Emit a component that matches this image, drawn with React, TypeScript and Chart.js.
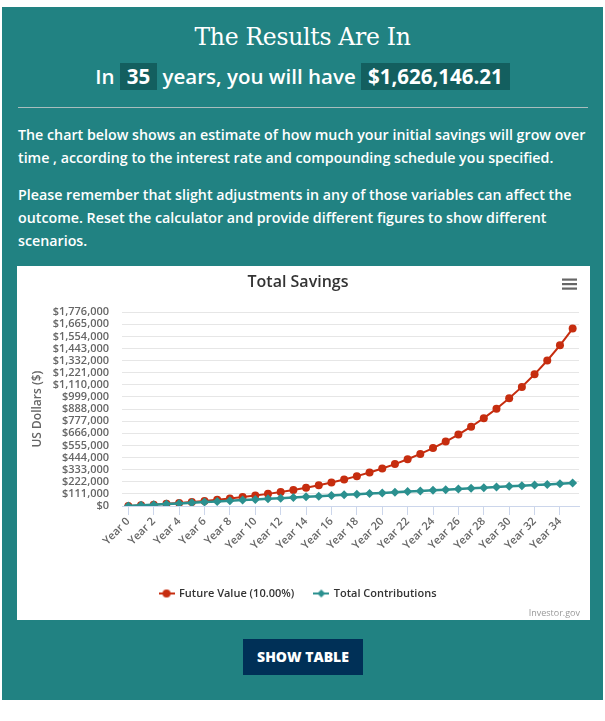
import React, { useEffect, useRef } from "react";
import { Chart, registerables } from "chart.js";

Chart.register(...registerables);

const years = [
  "Year 0", "Year 1", "Year 2", "Year 3", "Year 4", "Year 5", "Year 6", "Year 7", "Year 8", "Year 9",
  "Year 10", "Year 11", "Year 12", "Year 13", "Year 14", "Year 15", "Year 16", "Year 17", "Year 18", "Year 19",
  "Year 20", "Year 21", "Year 22", "Year 23", "Year 24", "Year 25", "Year 26", "Year 27", "Year 28", "Year 29",
  "Year 30", "Year 31", "Year 32", "Year 33", "Year 34", "Year 35",
];

const futureValue = [
  0, 6000, 12600, 19860, 27846, 36630.6, 46293.66, 56923.03, 68615.33, 81476.86,
  95624.55, 111187.0, 128305.7, 147136.27, 167849.9, 190634.89, 215698.38, 243268.22, 273595.04, 306954.54,
  343650.0, 384015.0, 428416.5, 477258.15, 530983.96, 590082.36, 655090.59, 726599.65, 805259.62, 891785.58,
  986964.14, 1091660.55, 1206826.61, 1333509.27, 1472860.19, 1626146.21,
];

const totalContributions = [
  0, 6000, 12000, 18000, 24000, 30000, 36000, 42000, 48000, 54000,
  60000, 66000, 72000, 78000, 84000, 90000, 96000, 102000, 108000, 114000,
  120000, 126000, 132000, 138000, 144000, 150000, 156000, 162000, 168000, 174000,
  180000, 186000, 192000, 198000, 204000, 210000,
];

const yMax = 1776000;
const yStep = 111000;

const seriesNames = ["Future Value (10.00%)", "Total Contributions"];
const RED = "#c62d0f";
const TEAL = "#2b908f";

function makeSymbol(color: string, shape: "circle" | "diamond") {
  const c = document.createElement("canvas");
  c.width = 16;
  c.height = 10;
  const g = c.getContext("2d")!;
  g.strokeStyle = color;
  g.lineWidth = 2;
  g.beginPath();
  g.moveTo(0, 5);
  g.lineTo(16, 5);
  g.stroke();
  g.fillStyle = color;
  g.beginPath();
  if (shape === "circle") {
    g.arc(8, 5, 4, 0, Math.PI * 2);
  } else {
    g.moveTo(8, 1);
    g.lineTo(12, 5);
    g.lineTo(8, 9);
    g.lineTo(4, 5);
    g.closePath();
  }
  g.fill();
  return c;
}

const extrasPlugin = {
  id: "extras",
  afterDraw(chart: any) {
    const ctx = chart.ctx;
    ctx.save();
    ctx.fillStyle = "#666";
    for (let i = 0; i < 3; i++) {
      ctx.fillRect(545, 12.5 + i * 4.5, 15, 2.2);
    }
    ctx.fillStyle = "#999";
    ctx.font = "9px 'Open Sans', sans-serif";
    ctx.textAlign = "right";
    ctx.textBaseline = "alphabetic";
    ctx.fillText("Investor.gov", 563, 350);
    ctx.restore();
  },
};

function TotalSavingsChart() {
  const ref = useRef<HTMLCanvasElement | null>(null);
  useEffect(() => {
    if (!ref.current) return;
    Chart.defaults.font.family = "'Open Sans', sans-serif";
    const redSym = makeSymbol(RED, "circle");
    const tealSym = makeSymbol(TEAL, "diamond");
    const chart = new Chart(ref.current, {
      type: "line",
      data: {
        labels: years,
        datasets: [
          {
            label: seriesNames[0],
            data: futureValue,
            borderColor: RED,
            backgroundColor: RED,
            borderWidth: 2,
            pointStyle: "circle",
            pointRadius: 4,
            pointBorderWidth: 0,
            pointBackgroundColor: RED,
            order: 1,
            tension: 0,
          },
          {
            label: seriesNames[1],
            data: totalContributions,
            borderColor: TEAL,
            backgroundColor: TEAL,
            borderWidth: 2.5,
            pointStyle: "rectRot",
            pointRadius: 4.5,
            pointBorderWidth: 0,
            pointBackgroundColor: TEAL,
            order: 0,
            tension: 0,
          },
        ],
      },
      options: {
        animation: false,
        responsive: false,
        layout: { padding: { left: 0, right: 11, top: 0, bottom: 11 } },
        plugins: {
          tooltip: { enabled: false },
          title: {
            display: true,
            text: "Total Savings",
            color: "#333",
            font: { size: 16, weight: "600" },
            padding: { top: 7, bottom: 20 },
          },
          legend: {
            position: "bottom",
            labels: {
              usePointStyle: true,
              pointStyleWidth: 14,
              boxHeight: 10,
              padding: 20,
              color: "#333",
              font: { size: 11, weight: "600" },
              generateLabels: (ch: any) => [
                {
                  text: seriesNames[0],
                  pointStyle: redSym,
                  fillStyle: RED,
                  strokeStyle: RED,
                  lineWidth: 0,
                  hidden: !ch.isDatasetVisible(0),
                  datasetIndex: 0,
                  fontColor: "#333",
                },
                {
                  text: seriesNames[1],
                  pointStyle: tealSym,
                  fillStyle: TEAL,
                  strokeStyle: TEAL,
                  lineWidth: 0,
                  hidden: !ch.isDatasetVisible(1),
                  datasetIndex: 1,
                  fontColor: "#333",
                },
              ],
            },
          },
        },
        scales: {
          x: {
            offset: true,
            grid: {
              drawOnChartArea: false,
              drawTicks: true,
              tickLength: 9,
              color: "#ccd6eb",
            },
            border: { display: true, color: "#ccd6eb", width: 1 },
            ticks: {
              autoSkip: false,
              minRotation: 45,
              maxRotation: 45,
              padding: 0,
              color: "#666",
              font: { size: 11, weight: "600" },
              callback: (_v: any, i: number) => (i % 2 === 0 ? years[i] : null),
            },
            afterFit: (scale: any) => {
              scale.height = 62;
            },
          },
          y: {
            min: 0,
            max: yMax,
            grid: { color: "#e6e6e6", drawTicks: false },
            border: { display: false },
            title: {
              display: true,
              text: "US Dollars ($)",
              color: "#666",
              font: { size: 12, weight: "600" },
              padding: { top: 13, bottom: 0 },
            },
            ticks: {
              stepSize: yStep,
              autoSkip: false,
              padding: 13,
              color: "#666",
              font: { size: 11, weight: "600" },
              callback: (v: any) => "$" + Number(v).toLocaleString("en-US"),
            },
            afterFit: (scale: any) => {
              scale.width = 105;
            },
          },
        },
      },
      plugins: [extrasPlugin],
    } as any);
    return () => chart.destroy();
  }, []);
  return <canvas ref={ref} width={573} height={354} style={{ display: "block", width: 573, height: 354 }} />;
}

export default function App() {
  const box: React.CSSProperties = {
    background: "#135f5f",
    padding: "0 7px",
    display: "inline-block",
    height: 27,
    lineHeight: "27px",
  };
  const line: React.CSSProperties = { whiteSpace: "nowrap", display: "block" };
  return (
    <div
      style={{
        position: "absolute",
        left: 2,
        top: 7,
        width: 601,
        height: 693,
        background: "#218282",
        color: "#fff",
        fontFamily: "'Open Sans', sans-serif",
      }}
    >
      <div
        style={{
          position: "absolute",
          left: 0,
          top: 14,
          width: 601,
          textAlign: "center",
          fontFamily: "'DejaVu Serif', serif",
          fontSize: 23.5,
          lineHeight: "32px",
          letterSpacing: "-0.3px",
        }}
      >
        The Results Are In
      </div>
      <div
        style={{
          position: "absolute",
          left: 0,
          top: 56,
          width: 601,
          textAlign: "center",
          fontSize: 20.5,
          fontWeight: 600,
          lineHeight: "27px",
          height: 27,
        }}
      >
        In <span style={{ ...box, fontWeight: 700 }}>35</span> years, you will have{" "}
        <span style={{ ...box, fontWeight: 700 }}>$1,626,146.21</span>
      </div>
      <div style={{ position: "absolute", left: 16, top: 100, width: 570, height: 1, background: "#a9bdbd" }} />
      <div
        style={{
          position: "absolute",
          left: 16,
          top: 115.5,
          fontSize: 14.25,
          fontWeight: 600,
          lineHeight: "23px",
        }}
      >
        <span style={line}>The chart below shows an estimate of how much your initial savings will grow over</span>
        <span style={line}>time , according to the interest rate and compounding schedule you specified.</span>
      </div>
      <div
        style={{
          position: "absolute",
          left: 16,
          top: 175.5,
          fontSize: 14.25,
          fontWeight: 600,
          lineHeight: "23px",
        }}
      >
        <span style={line}>Please remember that slight adjustments in any of those variables can affect the</span>
        <span style={line}>outcome. Reset the calculator and provide different figures to show different</span>
        <span style={line}>scenarios.</span>
      </div>
      <div style={{ position: "absolute", left: 15, top: 259, width: 573, height: 354, background: "#fff" }}>
        <TotalSavingsChart />
      </div>
      <div
        style={{
          position: "absolute",
          left: 241,
          top: 632,
          width: 120,
          height: 36,
          background: "#003057",
          color: "#fff",
          fontSize: 14,
          fontWeight: 800,
          lineHeight: "36px",
          textAlign: "center",
        }}
      >
        SHOW TABLE
      </div>
    </div>
  );
}
